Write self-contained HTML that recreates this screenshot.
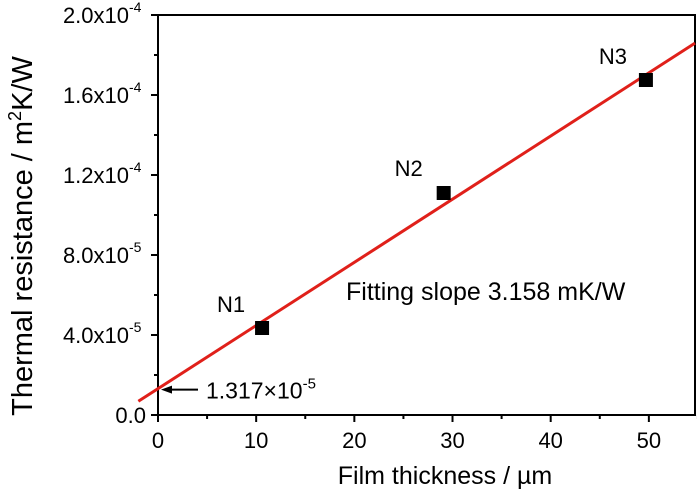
<!DOCTYPE html>
<html><head><meta charset="utf-8"><style>
body{margin:0;background:#fff;}
#wrap{position:relative;width:697px;height:494px;}
svg{display:block;position:absolute;left:0;top:0;font-family:"Liberation Sans",Arial,sans-serif;}
#box{position:absolute;left:157px;top:14px;width:535px;height:398px;border:2px solid #000;}
</style></head><body>
<div id="wrap">
<div id="box"></div>
<svg id="chart" width="697" height="494" viewBox="0 0 697 494">
<path d="M158 15 H695 V415 H158 Z" fill="none" stroke="#000" stroke-width="2"/>
</svg>
</div>
<script>
const xTicks=[0,10,20,30,40,50];
const yTicks=[0,4e-5,8e-5,1.2e-4,1.6e-4,2e-4];
const yTickMant=["0.0","4.0x10","8.0x10","1.2x10","1.6x10","2.0x10"];
const yTickExp=["","-5","-5","-4","-4","-4"];
const sampleNames=["N1","N2","N3"];
const thickness=[10.6,29.1,49.7];
const resistance=[4.35e-5,1.11e-4,1.675e-4];
const fitIntercept=1.317e-5;
const fitSlope=3.158e-6;
const fitRange=[-2,54.7];

const L=158,R=695,T=15,B=415,xMax=54.7;
const xs=v=>L+v*(R-L)/xMax;
const ys=v=>B-v*(B-T)/2e-4;
const svg=document.getElementById('chart');
const NS='http://www.w3.org/2000/svg';
function mk(tag,attrs,parent){const e=document.createElementNS(NS,tag);for(const k in attrs)e.setAttribute(k,attrs[k]);(parent||svg).appendChild(e);return e;}

xTicks.forEach((v,i)=>{
  const t=mk('line',{x1:xs(v),x2:xs(v),y1:B,y2:B+7,stroke:'#000','stroke-width':2});
  
  
  const m=mk('line',{x1:xs(v+5),x2:xs(v+5),y1:B,y2:B+4,stroke:'#000','stroke-width':2});
  
  
  const l=mk('text',{x:xs(v),y:B+33,'text-anchor':'middle','font-size':22});
  l.textContent=v;
  
  
});
yTicks.forEach((v,i)=>{
  const t=mk('line',{x1:L-7,x2:L,y1:ys(v),y2:ys(v),stroke:'#000','stroke-width':2});
  
  
  if(i<yTicks.length-1){
    const m=mk('line',{x1:L-4,x2:L,y1:ys(v+2e-5),y2:ys(v+2e-5),stroke:'#000','stroke-width':2});
    
    
  }
  const l=mk('text',{x:yTickExp[i]?L-12-17:L-12,y:ys(v)+8,'text-anchor':'end','font-size':22});
  l.textContent=yTickMant[i];
  
  
  if(yTickExp[i]){
    const e=mk('text',{x:L-29,y:ys(v)-3,'font-size':14});
    e.textContent=yTickExp[i];
    
    
  }
});

const fit=mk('line',{x1:xs(fitRange[0]),y1:ys(fitIntercept+fitSlope*fitRange[0]),x2:xs(fitRange[1]),y2:ys(fitIntercept+fitSlope*fitRange[1]),stroke:'#e0201a','stroke-width':3});



const labOff=[[-31,-16],[-35,-17],[-33,-16]];
thickness.forEach((v,i)=>{
  const p=mk('rect',{x:xs(v)-7,y:ys(resistance[i])-7,width:14,height:14,fill:'#000'});
  
  
  const l=mk('text',{x:xs(v)+labOff[i][0],y:ys(resistance[i])+labOff[i][1],'text-anchor':'middle','font-size':22});
  l.textContent=sampleNames[i];
  
  
});

const ft=mk('text',{x:346,y:300,'font-size':25});
ft.textContent='Fitting slope 3.158 mK/W';



const ay=ys(fitIntercept)+1;
const ar=mk('line',{x1:198,x2:168,y1:ay,y2:ay,stroke:'#000','stroke-width':2});


const ah=mk('path',{d:`M161 ${ay} L172 ${ay-4} L172 ${ay+4}Z`,fill:'#000'});


const it=mk('text',{x:206,y:ay+9,'font-size':23});
it.innerHTML='1.317×10<tspan dy="-10" font-size="15">-5</tspan>';



const xt=mk('text',{x:445,y:484,'text-anchor':'middle','font-size':25});
xt.textContent='Film thickness / µm';


const yt=mk('text',{x:0,y:0,'text-anchor':'middle','font-size':29,transform:'translate(32,236) rotate(-90)'});
yt.innerHTML='Thermal resistance / m<tspan dy="-11" font-size="18">2</tspan><tspan dy="11">K/W</tspan>';


</script>
</body></html>
